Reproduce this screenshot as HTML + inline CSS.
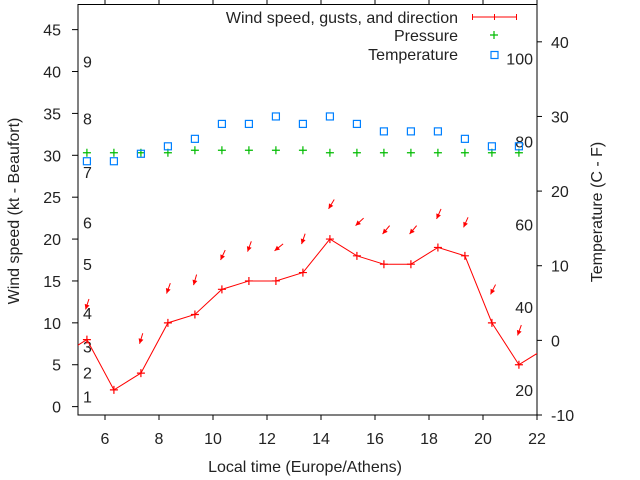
<!DOCTYPE html>
<html><head><meta charset="utf-8"><style>
html,body{margin:0;padding:0;background:#fff;}
svg{display:block;font-family:"Liberation Sans",sans-serif;}
</style></head><body>
<svg id="chart" width="640" height="480" viewBox="0 0 640 480">
<g id="grid"></g>
<g id="marks"></g>
<g id="legend"></g>
</svg>
<script>
const hours = [4.33,5.33,6.33,7.33,8.33,9.33,10.33,11.33,12.33,13.33,14.33,15.33,16.33,17.33,18.33,19.33,20.33,21.33,22.33];
const speeds = [6,8,2,4,10,11,14,15,15,16,20,18,17,17,19,18,10,5,7];
const gustHours = [5.28,7.28,8.28,9.28,10.28,11.28,12.28,13.28,14.28,15.28,16.28,17.28,18.28,19.28,20.28,21.28];
const gusts = [11.6,7.5,13.5,14.5,17.5,18.5,18.6,19.4,23.6,21.6,20.6,20.6,22.4,21.4,13.4,8.5];
const directions = [18,17,20,16,25,20,51,19,31,47,40,40,24,24,27,20];
const pressHours = [5.33,6.33,7.33,8.33,9.33,10.33,11.33,12.33,13.33,14.33,15.33,16.33,17.33,18.33,19.33,20.33,21.33];
const pressure = [30.3,30.3,30.3,30.3,30.6,30.6,30.6,30.6,30.6,30.3,30.3,30.3,30.3,30.3,30.3,30.3,30.3];
const temps = [24,24,25,26,27,29,29,30,29,30,29,28,28,28,27,26,26];
const xTicks = [6,8,10,12,14,16,18,20,22];
const yTicks = [0,5,10,15,20,25,30,35,40,45];
const y2Ticks = [-10,0,10,20,30,40];
const beaufort = [1,2,3,4,5,6,7,8,9];
const beaufortKt = [1.2,4.05,7.15,11.2,17,22,28,34.4,41.2];
const fahrenheit = [20,40,60,80,100];

const L=78,R=537,T=4.5,B=415,FS=16;
const X=h=>L+(h-5)/(22-5)*(R-L);
const Y=v=>B-(v+1)/(48+1)*(B-T);
const Y2=v=>B-(v+10)/(45+10)*(B-T);
const NS="http://www.w3.org/2000/svg";
function mk(tag,attrs,parent){const e=document.createElementNS(NS,tag);for(const k in attrs)e.setAttribute(k,attrs[k]);parent.appendChild(e);return e;}
const g=document.getElementById('grid'),m=document.getElementById('marks'),lg=document.getElementById('legend');

let e=mk('rect',{x:L,y:T,width:R-L,height:B-T,fill:'none',stroke:'#000','stroke-width':1},g);


xTicks.forEach(t=>{const x=X(t);
 mk('line',{x1:x,x2:x,y1:B,y2:B+5,stroke:'#000'},g);
 mk('line',{x1:x,x2:x,y1:0,y2:T,stroke:'#000'},g);
 const tx=mk('text',{x:x,y:B+29,'text-anchor':'middle','font-size':FS,fill:'#222'},g);tx.textContent=t;
 
 
});
yTicks.forEach(t=>{const y=Y(t);
 mk('line',{x1:L-6,x2:L,y1:y,y2:y,stroke:'#000'},g);
 const tx=mk('text',{x:61,y:y+6,'text-anchor':'end','font-size':FS,fill:'#222'},g);tx.textContent=t;
 
 
});
y2Ticks.forEach(t=>{const y=Y2(t);
 mk('line',{x1:R,x2:R+5,y1:y,y2:y,stroke:'#000'},g);
 const tx=mk('text',{x:551,y:y+6,'text-anchor':'start','font-size':FS,fill:'#222'},g);tx.textContent=t;
 
 
});
beaufort.forEach((b,i)=>{const tx=mk('text',{x:83,y:Y(beaufortKt[i])+6,'font-size':FS,fill:'#222'},g);tx.textContent=b;
 
 
});
fahrenheit.forEach(f=>{const tx=mk('text',{x:533,y:Y2((f-32)*5/9)+6,'text-anchor':'end','font-size':FS,fill:'#222'},g);tx.textContent=f;
 
 
});
let t1=mk('text',{x:305,y:472,'text-anchor':'middle','font-size':FS,fill:'#222'},g);t1.textContent='Local time (Europe/Athens)';


let t2=mk('text',{x:0,y:0,transform:'translate(19,211) rotate(-90)','text-anchor':'middle','font-size':FS,fill:'#222'},g);t2.textContent='Wind speed (kt - Beaufort)';


let t3=mk('text',{x:0,y:0,transform:'translate(602,212) rotate(-90)','text-anchor':'middle','font-size':FS,fill:'#222'},g);t3.textContent='Temperature (C - F)';



const defs=mk('defs',{},m);const cp=mk('clipPath',{id:'cp'},defs);mk('rect',{x:L,y:T,width:R-L,height:B-T},cp);
const cg=mk('g',{'clip-path':'url(#cp)'},m);
function plus(x,y,c,p){mk('path',{d:`M${x-4} ${y}h8M${x} ${y-4}v8`,stroke:c,'stroke-width':1.2,fill:'none'},p);}
let pts=hours.map((h,i)=>X(h)+','+Y(speeds[i])).join(' ');
let pl=mk('polyline',{points:pts,fill:'none',stroke:'#f00','stroke-width':1},cg);


hours.forEach((h,i)=>{if(h>5&&h<22)plus(X(h),Y(speeds[i]),'#f00',cg);});
gusts.forEach((v,i)=>{const hx=X(gustHours[i]),hy=Y(v),a=directions[i]*Math.PI/180,len=11;
 const tx=hx+len*Math.sin(a),ty=hy-len*Math.cos(a);
 const ag=mk('g',{},m);
 
 
 mk('line',{x1:tx,y1:ty,x2:hx,y2:hy,stroke:'#f00','stroke-width':1},ag);
 const ux=(hx-tx)/len,uy=(hy-ty)/len,px=-uy,py=ux;
 mk('polygon',{points:`${hx},${hy} ${hx-ux*5+px*2.5},${hy-uy*5+py*2.5} ${hx-ux*5-px*2.5},${hy-uy*5-py*2.5}`,fill:'#f00'},ag);
});
pressure.forEach((v,i)=>{const pg=mk('g',{},m);
 
 
 plus(X(pressHours[i]),Y(v),'#0b0',pg);});
temps.forEach((v,i)=>{const x=X(pressHours[i]),y=Y2(v);
 const r=mk('rect',{x:x-3.5,y:y-3.5,width:7,height:7,fill:'none',stroke:'#0080ff','stroke-width':1.2},m);
 
 
});
const items=[['Wind speed, gusts, and direction',17],['Pressure',35],['Temperature',54]];
items.forEach((it,i)=>{const tx=mk('text',{x:458,y:it[1]+6,'text-anchor':'end','font-size':FS,fill:'#222'},lg);tx.textContent=it[0];
 
 
});
mk('path',{d:'M472.5 17H516.5M472.5 14v6M516.5 14v6M494.5 14v6',stroke:'#f00',fill:'none'},lg);
plus(494,35,'#0b0',lg);
mk('rect',{x:491,y:51.5,width:7,height:7,fill:'none',stroke:'#0080ff','stroke-width':1.2},lg);
</script>
</body></html>
